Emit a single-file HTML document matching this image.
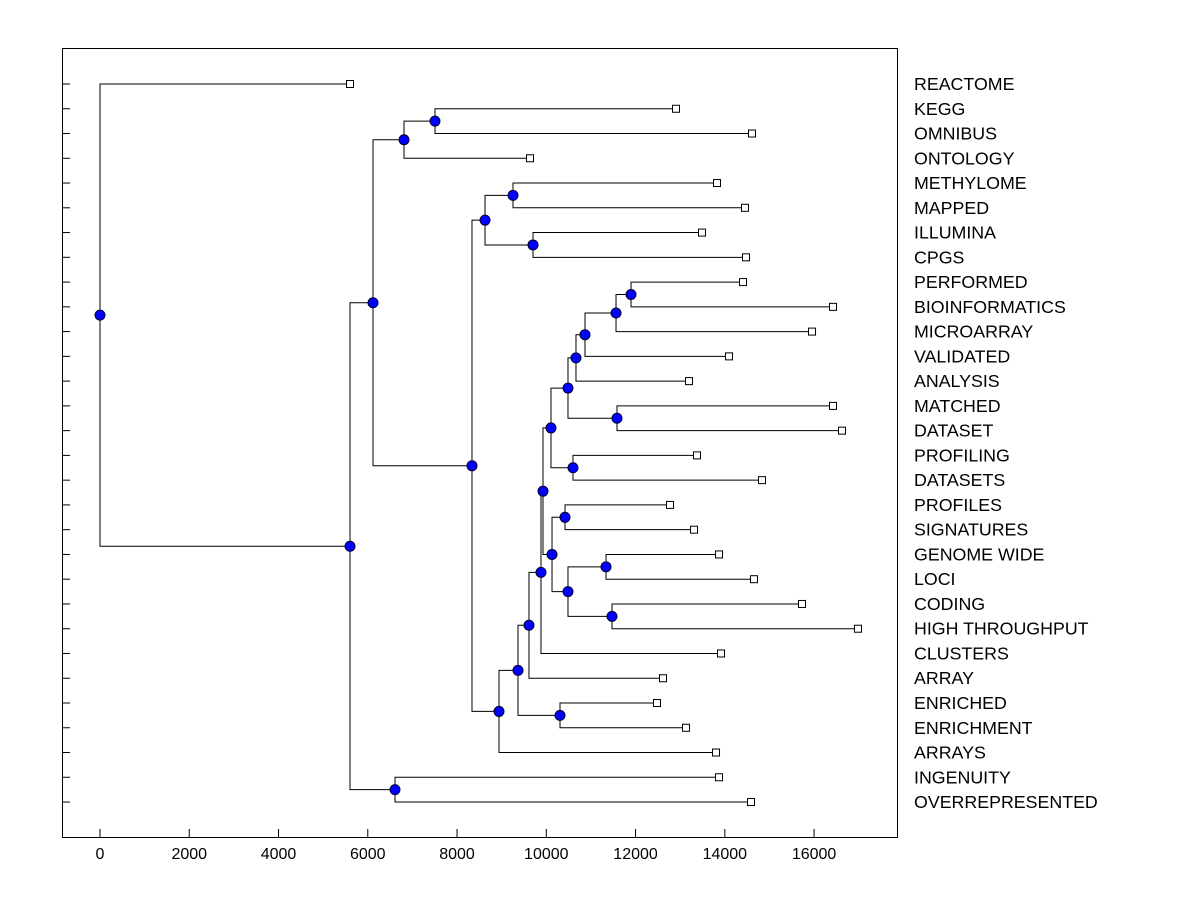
<!DOCTYPE html>
<html><head><meta charset="utf-8"><style>
body{margin:0;background:#fff;}
svg text{font-family:"Liberation Sans",Arial,sans-serif;}
</style></head><body>
<svg id="chart" width="1200" height="900" xmlns="http://www.w3.org/2000/svg"></svg>
<script>
const leafNames=["REACTOME","KEGG","OMNIBUS","ONTOLOGY","METHYLOME","MAPPED","ILLUMINA","CPGS","PERFORMED","BIOINFORMATICS","MICROARRAY","VALIDATED","ANALYSIS","MATCHED","DATASET","PROFILING","DATASETS","PROFILES","SIGNATURES","GENOME WIDE","LOCI","CODING","HIGH THROUGHPUT","CLUSTERS","ARRAY","ENRICHED","ENRICHMENT","ARRAYS","INGENUITY","OVERREPRESENTED"];
const leafValues=[5602,12906,14609,9635,13825,14452,13489,14475,14408,16424,15954,14094,13197,16424,16626,13377,14833,12772,13310,13870,14654,15730,16984,13915,12615,12480,13130,13803,13870,14587];
const nodeIds=["root","A","INGOV","B","C","E","D","F","H","I","G","J","L","K","M","N","O","Q","S","U","V","W","T","R","P","X","Y","Z","AA"];
const nodeHeights=[0,5602,6610,6117,6812,7506,8335,8627,9254,9702,8940,9366,10307,9612,9881,9926,10105,10486,10665,10867,11562,11898,11584,10598,10128,10419,10486,11338,11472];
const nodeChildren=[["REACTOME","A"],["B","INGOV"],["INGENUITY","OVERREPRESENTED"],["C","D"],["E","ONTOLOGY"],["KEGG","OMNIBUS"],["F","G"],["H","I"],["METHYLOME","MAPPED"],["ILLUMINA","CPGS"],["J","ARRAYS"],["K","L"],["ENRICHED","ENRICHMENT"],["M","ARRAY"],["N","CLUSTERS"],["O","P"],["Q","R"],["S","T"],["U","ANALYSIS"],["V","VALIDATED"],["W","MICROARRAY"],["PERFORMED","BIOINFORMATICS"],["MATCHED","DATASET"],["PROFILING","DATASETS"],["X","Y"],["PROFILES","SIGNATURES"],["Z","AA"],["GENOME WIDE","LOCI"],["CODING","HIGH THROUGHPUT"]];
const xTicks=[0,2000,4000,6000,8000,10000,12000,14000,16000];
</script>
<script>
const svg=document.getElementById('chart');
const NS="http://www.w3.org/2000/svg";
const X=v=>100+v*0.04463;
const Y0=84,DY=24.76;
function mk(t,a,p){const e=document.createElementNS(NS,t);for(const k in a)e.setAttribute(k,a[k]);(p||svg).appendChild(e);return e;}
const frame=mk('rect',{x:62.5,y:48.5,width:835,height:789,fill:'none',stroke:'#000'});


const pos={};
leafNames.forEach((n,i)=>{pos[n]={x:X(leafValues[i]),y:Y0+i*DY};});
const idx={};nodeIds.forEach((id,i)=>idx[id]=i);
function getPos(n){if(pos[n])return pos[n];const i=idx[n];const a=getPos(nodeChildren[i][0]),b=getPos(nodeChildren[i][1]);pos[n]={x:X(nodeHeights[i]),y:(a.y+b.y)/2};return pos[n];}
getPos("root");
const lines=mk('g',{stroke:'#000','stroke-width':1,fill:'none'});


nodeIds.forEach((id,i)=>{const p=pos[id];const a=pos[nodeChildren[i][0]],b=pos[nodeChildren[i][1]];
 const pth=mk('path',{d:`M${a.x},${a.y}H${p.x}V${b.y}H${b.x}`},lines);
 
 });
leafNames.forEach((n,i)=>{const p=pos[n];
 const t=mk('line',{x1:62,y1:p.y,x2:70,y2:p.y,stroke:'#000'});
 
 
 const r=mk('rect',{x:p.x-3.5,y:p.y-3.5,width:7,height:7,fill:'#fff',stroke:'#000'});
 
 
 const l=mk('text',{x:914,y:p.y+6,'font-size':17.8});l.textContent=n;
 
 });
nodeIds.forEach(id=>{const p=pos[id];
 const c=mk('circle',{cx:p.x,cy:p.y,r:5,fill:'#0000ff',stroke:'#000030','stroke-width':1});
 
 });
xTicks.forEach(v=>{const x=X(v);
 const t=mk('line',{x1:x,y1:837,x2:x,y2:829,stroke:'#000'});
 
 
 const l=mk('text',{x:x,y:859,'font-size':16,'text-anchor':'middle'});l.textContent=v;
 
 });
</script>
</body></html>
